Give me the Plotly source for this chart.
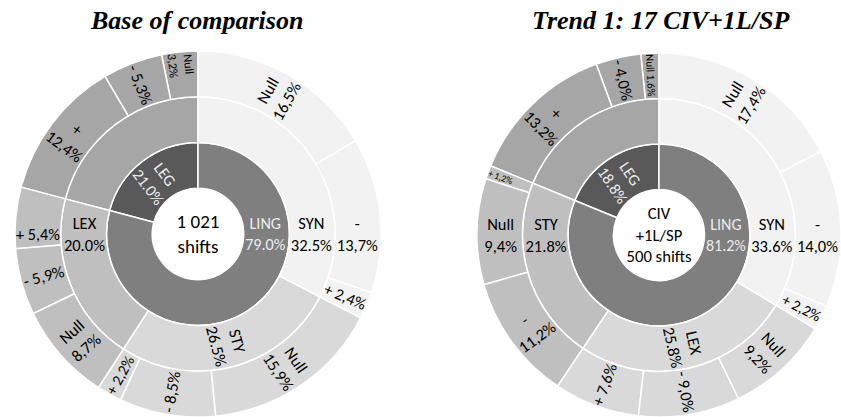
import plotly.graph_objects as go

# ---------------- data (listed clockwise from 12 o'clock) ----------------
# Left chart: Base of comparison (1 021 shifts)
left_center = "1 021<br>shifts"
left_top = ["LING", "LEG"]
left_top_pct = ["79.0%", "21.0%"]
left_ling = ["SYN", "STY", "LEX"]
left_ling_pct = ["32.5%", "26.5%", "20.0%"]
left_syn = {"Null": 16.5, "-": 13.7, "+": 2.4}
left_sty = {"Null": 15.9, "-": 8.5, "+": 2.2}
left_lex = {"Null": 8.7, "-": 5.9, "+": 5.4}
left_leg = {"+": 12.4, "-": 5.3, "Null": 3.2}

# Right chart: Trend 1: 17 CIV+1L/SP (500 shifts)
right_center = "CIV<br>+1L/SP<br>500 shifts"
right_top = ["LING", "LEG"]
right_top_pct = ["81.2%", "18.8%"]
right_ling = ["SYN", "LEX", "STY"]
right_ling_pct = ["33.6%", "25.8%", "21.8%"]
right_syn = {"Null": 17.4, "-": 14.0, "+": 2.2}
right_lex = {"Null": 9.2, "-": 9.0, "+": 7.6}
right_sty = {"-": 11.2, "Null": 9.4, "+": 1.2}
right_leg = {"+": 13.2, "-": 4.0, "Null": 1.6}

titles = ["Base of comparison", "Trend 1: 17 CIV+1L/SP"]

# ---------------- styles ----------------
C_LING = "#7f7f7f"
C_LEG = "#595959"
C_MID = ["#f2f2f2", "#d9d9d9", "#bfbfbf"]
C_LEGMID = "#a6a6a6"
INNER_TXT = "#ececec"
FONT = "Carlito, Calibri, Lato, sans-serif"


def fmt(v):
    return ("%.1f" % v).replace(".", ",") + "%"


def build(prefix, center, top, top_pct, ling, ling_pct, ling_children, leg_children,
          line_break):
    # plotly sunburst runs counter-clockwise, so sectors are added in reverse order
    ids, labels, parents, values, texts, colors, tcolors = [], [], [], [], [], [], []

    def add(i, lab, p, v, t, c, tc):
        ids.append(i); labels.append(lab); parents.append(p); values.append(v)
        texts.append(t); colors.append(c); tcolors.append(tc)

    root = prefix
    add(root, "root", "", 0, center, "white", "black")
    ling_id = root + "/LING"
    leg_id = root + "/LEG"
    # LEG first (counter-clockwise from top)
    add(leg_id, top[1], root, 0, top[1] + "<br>" + top_pct[1], C_LEG, INNER_TXT)
    mid_id = leg_id + "/M"
    add(mid_id, "", leg_id, 0, "", C_LEGMID, "black")
    for lname, v in reversed(list(leg_children.items())):
        sep = "<br>" if ("LEG", lname) in line_break else " "
        add(mid_id + "/" + lname, lname, mid_id, v, lname + sep + fmt(v), C_LEGMID, "black")
    add(ling_id, top[0], root, 0, top[0] + "<br>" + top_pct[0], C_LING, INNER_TXT)
    items = list(enumerate(zip(ling, ling_pct, ling_children)))
    for i, (name, pct, ch) in reversed(items):
        cid = ling_id + "/" + name
        add(cid, name, ling_id, 0, name + "<br>" + pct, C_MID[i], "black")
        for lname, v in reversed(list(ch.items())):
            sep = "<br>" if (name, lname) in line_break else " "
            add(cid + "/" + lname, lname, cid, v, lname + sep + fmt(v), C_MID[i], "black")
    return ids, labels, parents, values, texts, colors, tcolors


L_breaks = {("SYN", "Null"), ("SYN", "-"), ("STY", "Null"),
            ("LEX", "Null"), ("LEG", "+"), ("LEG", "Null")}
R_breaks = {("SYN", "Null"), ("SYN", "-"), ("LEX", "Null"),
            ("STY", "-"), ("STY", "Null"), ("LEG", "+")}

W, H = 841, 417


def dom(cx, cy, r):
    clamp = lambda v: round(min(1.0, max(0.0, v)), 5)
    return dict(x=[clamp((cx - r) / W), clamp((cx + r) / W)],
                y=[clamp((H - cy - r) / H), clamp((H - cy + r) / H)])


fig = go.Figure()
specs = [
    ("L", left_center, left_top, left_top_pct, left_ling, left_ling_pct,
     [left_syn, left_sty, left_lex], left_leg, L_breaks, (198, 234, 183)),
    ("R", right_center, right_top, right_top_pct, right_ling, right_ling_pct,
     [right_syn, right_lex, right_sty], right_leg, R_breaks, (659, 235, 182)),
]
for pre, cen, top, tp, ling, lp, lch, leg, br, (cx, cy, r) in specs:
    ids, labels, parents, values, texts, colors, tcolors = build(
        pre, cen, top, tp, ling, lp, lch, leg, br)
    fig.add_trace(go.Sunburst(
        ids=ids, labels=labels, parents=parents, values=values, text=texts,
        branchvalues="remainder", sort=False, rotation=90,
        textinfo="text", insidetextorientation="radial",
        marker=dict(colors=colors, line=dict(color="white", width=1.5)),
        leaf=dict(opacity=1),
        insidetextfont=dict(family=FONT, size=16.5, color=tcolors),
        outsidetextfont=dict(family=FONT, size=19, color="black"),
        hoverinfo="none",
        domain=dom(cx, cy, r),
    ))

for t, x in zip(titles, [196, 661]):
    fig.add_annotation(text=t, x=x / W, y=1 - 20 / H, xref="paper", yref="paper",
                       xanchor="center", yanchor="middle", showarrow=False,
                       font=dict(family="Liberation Serif, Times New Roman, serif", size=26,
                                 color="black", weight="bold", style="italic"))

fig.update_layout(width=W, height=H, margin=dict(l=0, r=0, t=0, b=0),
                  paper_bgcolor="white", showlegend=False)
fig.write_html("out.html")
